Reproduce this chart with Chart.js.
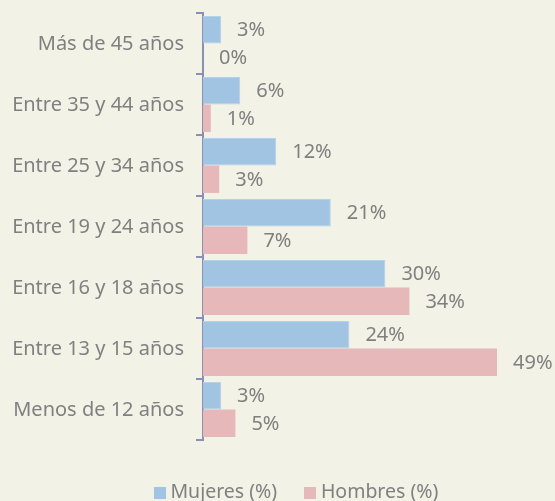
<!DOCTYPE html>
<html>
<head>
<meta charset="utf-8">
<script src="https://cdn.jsdelivr.net/npm/chart.js@4/dist/chart.umd.min.js"></script>
<style>
html,body{margin:0;padding:0;background:#f2f2e6;}
#wrap{width:555px;height:501px;}
</style>
</head>
<body>
<div id="wrap"><canvas id="c" width="555" height="501"></canvas></div>
<script>
const categories = ["Más de 45 años","Entre 35 y 44 años","Entre 25 y 34 años","Entre 19 y 24 años","Entre 16 y 18 años","Entre 13 y 15 años","Menos de 12 años"];
const seriesNames = ["Mujeres (%)","Hombres (%)"];
const mujeres = [3.0, 6.2, 12.2, 21.3, 30.4, 24.4, 3.0];
const hombres = [0.0, 1.3, 2.7, 7.4, 34.4, 49.0, 5.4];

const FONT = "'Noto Sans', sans-serif";
const TEXT = "#808080";
const AXIS = '#8a8fb3';
const BLUE = '#a0c4e2';
const PINK = '#e6b8b9';

function swatch(color) {
  const c = document.createElement('canvas');
  c.width = 12; c.height = 12;
  const g = c.getContext('2d');
  g.fillStyle = color;
  g.fillRect(0, 0, 12, 12);
  return c;
}

const labelPlugin = {
  id: 'valLabels',
  afterDatasetsDraw(chart) {
    const ctx = chart.ctx;
    ctx.save();
    ctx.font = "20px " + FONT;
    ctx.fillStyle = TEXT;
    ctx.textAlign = 'left';
    ctx.textBaseline = 'middle';
    chart.data.datasets.forEach((ds, di) => {
      const meta = chart.getDatasetMeta(di);
      meta.data.forEach((el, i) => {
        const v = ds.data[i];
        ctx.fillText(Math.round(v) + "%", el.x + 16, el.y + 1);
      });
    });
    ctx.restore();
  }
};

const legendFit = {
  id: 'legendFit',
  beforeLayout(chart) {
    const lg = chart.legend;
    if (lg && !lg._patched) {
      const orig = lg.fit;
      lg.fit = function() { orig.call(this); this.height = 61; };
      lg._patched = true;
    }
  },
  afterLayout(chart) {
    const lg = chart.legend;
    if (lg) {
      lg.top += 11; lg.bottom += 11;
      lg.left += 47; lg.right += 47;
    }
  }
};

new Chart(document.getElementById('c'), {
  type: 'bar',
  data: {
    labels: categories,
    datasets: [
      {label: seriesNames[0], data: mujeres, backgroundColor: BLUE, borderColor: '#b4d2ea', borderWidth: 1, categoryPercentage: 0.9, barPercentage: 1.0},
      {label: seriesNames[1], data: hombres, backgroundColor: PINK, borderColor: PINK, borderWidth: 0, categoryPercentage: 0.9, barPercentage: 1.0}
    ]
  },
  options: {
    indexAxis: 'y',
    responsive: false,
    animation: false,
    layout: {padding: {top: 13, right: 52, left: 0, bottom: 0}},
    scales: {
      x: {display: false, min: 0, max: 50},
      y: {
        afterFit(s) { s.width = 203; s.paddingTop = 0; s.paddingBottom = 0; },
        grid: {drawOnChartArea: false, drawTicks: true, tickLength: 7, color: AXIS, lineWidth: 2, offset: true},
        border: {display: true, color: AXIS, width: 2},
        ticks: {color: TEXT, font: {family: FONT, size: 20}, padding: 12, labelOffset: 1}
      }
    },
    plugins: {
      legend: {
        position: 'bottom',
        labels: {
          color: TEXT, font: {family: FONT, size: 19.5},
          usePointStyle: true, pointStyleWidth: 2, boxHeight: 12, padding: 32,
          generateLabels(chart) {
            const items = Chart.defaults.plugins.legend.labels.generateLabels(chart);
            const cols = [BLUE, PINK];
            items.forEach((it, i) => { it.pointStyle = swatch(cols[i]); });
            return items;
          }
        }
      },
      tooltip: {enabled: false}
    }
  },
  plugins: [labelPlugin, legendFit, {
    id: 'bg',
    beforeDraw(chart) {
      const ctx = chart.ctx;
      ctx.save();
      ctx.fillStyle = '#f2f2e6';
      ctx.fillRect(0, 0, chart.width, chart.height);
      ctx.restore();
    }
  }]
});
</script>
</body>
</html>
